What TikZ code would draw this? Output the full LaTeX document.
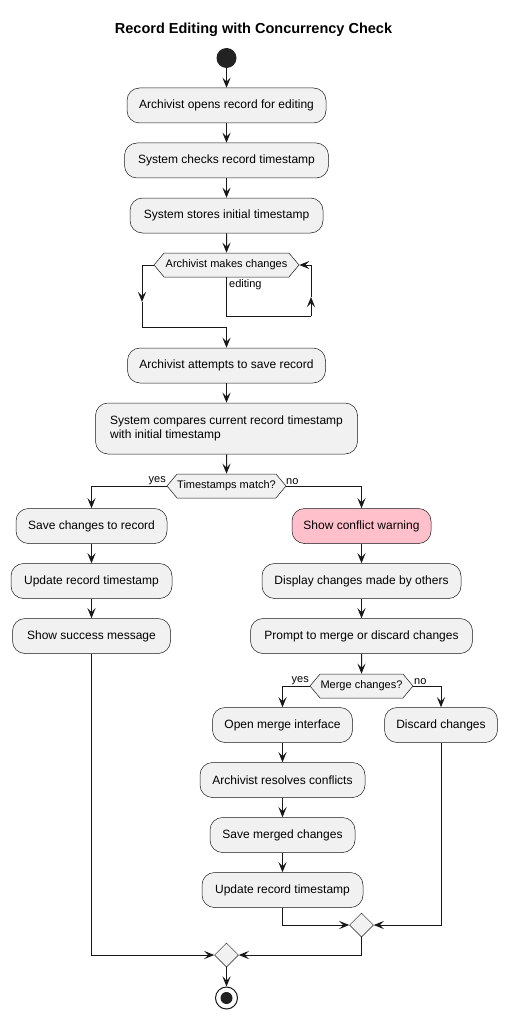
\documentclass[tikz,border=0pt]{standalone}
\usepackage{fontspec}
\setmainfont{Liberation Sans}
\usetikzlibrary{arrows.meta,shapes.geometric,shapes.symbols}
\definecolor{boxfill}{HTML}{F1F1F1}
\definecolor{boxdraw}{HTML}{181818}
\definecolor{pinkfill}{HTML}{FFC0CB}
\definecolor{startfill}{HTML}{222222}
\begin{document}
\begin{tikzpicture}[x=1pt,y=-1pt,
  act/.style={draw=boxdraw, line width=0.5pt, fill=boxfill, rounded corners=12.5pt,
    minimum height=35pt, inner sep=0pt, font=\fontsize{12}{14}\selectfont},
  hexa/.style={draw=boxdraw, line width=0.5pt, fill=boxfill, signal, signal to=west and east,
    signal pointer angle=100, minimum height=24pt, inner sep=0pt, font=\fontsize{11}{13}\selectfont},
  merge/.style={draw=boxdraw, line width=0.5pt, fill=boxfill, diamond, aspect=1,
    minimum size=24pt, inner sep=0pt},
  lbl/.style={font=\fontsize{11}{13}\selectfont, inner sep=0pt},
  line/.style={draw=boxdraw, line width=1pt},
  arr/.style={line, -{Stealth[length=10pt,width=8pt,inset=4pt]}}
]
\fill[white] (0,0) rectangle (508,1019);

\node[font=\fontsize{14.5}{17}\selectfont\bfseries] (title) at (253.5,30) {Record Editing with Concurrency Check};

\node[circle, fill=startfill, minimum size=20pt, inner sep=0pt] (start) at (226.5,58) {};

\node[act, minimum width=199pt] (b1) at (226.5,105.5) {Archivist opens record for editing};
\node[act, minimum width=204pt] (b2) at (226.5,160.5) {System checks record timestamp};
\node[act, minimum width=193pt] (b3) at (226.5,215.5) {System stores initial timestamp};
\node[hexa, minimum width=145pt] (loop) at (226.5,265) {Archivist makes changes};
\node[act, minimum width=198pt] (b4) at (226.5,365.5) {Archivist attempts to save record};
\node[act, minimum width=262pt, minimum height=51pt, align=left] (b5) at (226.5,428.5)
  {System compares current record timestamp\\with initial timestamp};
\node[hexa, minimum width=119pt] (d1) at (226.5,486) {Timestamps match?};

\node[act, minimum width=151pt] (l1) at (91.5,526) {Save changes to record};
\node[act, minimum width=161pt] (l2) at (91.5,581) {Update record timestamp};
\node[act, minimum width=158pt] (l3) at (91.5,636) {Show success message};

\node[act, minimum width=139pt, fill=pinkfill] (r1) at (361.5,526) {Show conflict warning};
\node[act, minimum width=199pt] (r2) at (361.5,581) {Display changes made by others};
\node[act, minimum width=222pt] (r3) at (361.5,636) {Prompt to merge or discard changes};
\node[hexa, minimum width=103pt] (d2) at (361.5,686) {Merge changes?};

\node[act, minimum width=140pt] (m1) at (282.5,725) {Open merge interface};
\node[act, minimum width=165pt] (m2) at (282.5,780) {Archivist resolves conflicts};
\node[act, minimum width=145pt] (m3) at (282.5,835) {Save merged changes};
\node[act, minimum width=161pt] (m4) at (282.5,890) {Update record timestamp};
\node[act, minimum width=113pt] (n1) at (441,725) {Discard changes};

\node[merge] (dm1) at (361.5,925) {};
\node[merge] (dm2) at (226.5,955) {};
\node[circle, draw=boxdraw, line width=1pt, fill=white, minimum size=22pt, inner sep=0pt] (stop) at (226.5,998) {};
\node[circle, fill=startfill, minimum size=12pt, inner sep=0pt] (stopin) at (stop.center) {};

% labels
\node[lbl, anchor=west] (editing) at (229,285) {editing};
\node[lbl, anchor=south east] (yes1) at (166,485) {yes};
\node[lbl, anchor=south west] (no1) at (286,485) {no};
\node[lbl, anchor=south east] (yes2) at (309,685) {yes};
\node[lbl, anchor=south west] (no2) at (414,685) {no};

% main chain
\draw[arr] (start) -- (b1);
\draw[arr] (b1) -- (b2);
\draw[arr] (b2) -- (b3);
\draw[arr] (b3) -- (loop);

% loop exit (left)
\coordinate (la) at (142,265);
\coordinate (lb) at (142,302);
\coordinate (lc) at (142,327);
\coordinate (ld) at (226.5,327);
\draw[line] (loop.west) -- (la);
\draw[arr] (la) -- (lb);
\draw[line] (lb) -- (lc) -- (ld);
\draw[arr] (ld) -- (b4);

% loop back (editing)
\coordinate (ea) at (226.5,316);
\coordinate (eb) at (311,316);
\coordinate (ec) at (311,297);
\coordinate (ed) at (311,265);
\draw[line] (loop.south) -- (ea) -- (eb);
\draw[arr] (eb) -- (ec);
\draw[line] (ec) -- (ed);
\draw[arr] (ed) -- (loop.east);

\draw[arr] (b4) -- (b5);
\draw[arr] (b5) -- (d1);

\draw[arr] (d1.west) -| (l1.north);
\draw[arr] (d1.east) -| (r1.north);

\draw[arr] (l1) -- (l2);
\draw[arr] (l2) -- (l3);
\draw[arr] (r1) -- (r2);
\draw[arr] (r2) -- (r3);
\draw[arr] (r3) -- (d2);

\draw[arr] (d2.west) -| (m1.north);
\draw[arr] (d2.east) -| (n1.north);

\draw[arr] (m1) -- (m2);
\draw[arr] (m2) -- (m3);
\draw[arr] (m3) -- (m4);

\draw[arr] (m4.south) |- (dm1.west);
\draw[arr] (n1.south) |- (dm1.east);
\draw[arr] (dm1.south) |- (dm2.east);
\draw[arr] (l3.south) |- (dm2.west);
\draw[arr] (dm2) -- (stop);
\end{tikzpicture}
\end{document}
